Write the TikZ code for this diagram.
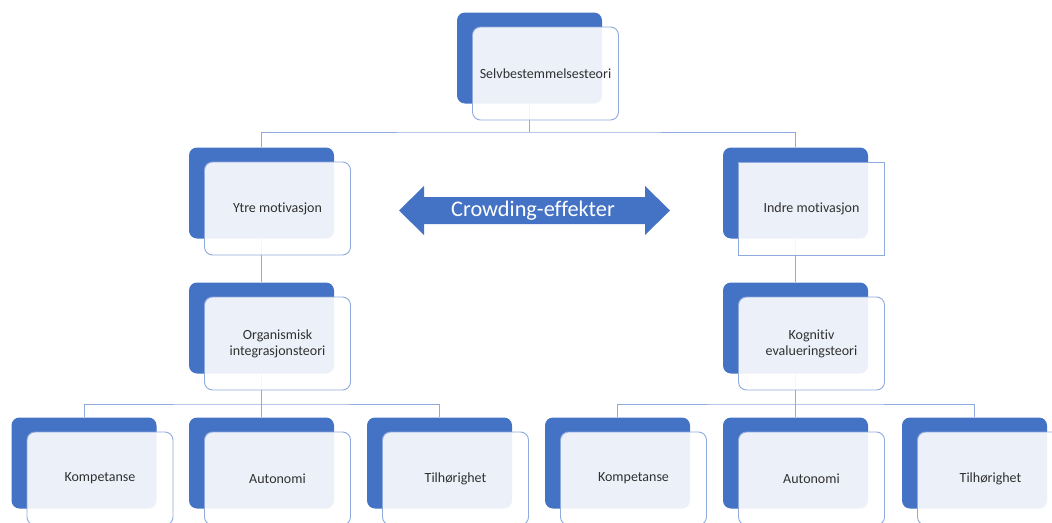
\documentclass[tikz,border=0pt]{standalone}
\usepackage{fontspec}
\setmainfont{Carlito}[Ligatures=NoCommon]
\usetikzlibrary{calc}
\definecolor{accent}{HTML}{4472C4}
\definecolor{linkblue}{HTML}{8FAADC}
\definecolor{labelgray}{HTML}{303030}
\pgfdeclarelayer{background}
\pgfsetlayers{background,main}

\tikzset{
  backbox/.style={rectangle, rounded corners=8pt, fill=accent,
    minimum width=145pt, minimum height=91pt, inner sep=0pt},
  frontbox/.style={rectangle, rounded corners=8pt, fill=white, fill opacity=0.9,
    text opacity=1, draw=linkblue, draw opacity=1, line width=0.9pt,
    minimum width=146pt, minimum height=93pt, align=center, inner sep=2pt,
    font=\fontsize{14}{16}\selectfont, text=labelgray},
  link/.style={draw=linkblue, line width=0.9pt},
  bannerfill/.style={fill=accent},
  bannertext/.style={font=\fontsize{22.3}{26}\selectfont, text=white, inner sep=0pt},
}

% one tier element: a solid back card and a translucent front card with the label
\newcommand\tierbox[5][]{%
  \node[backbox] (#2-b) at (#3,#4) {};
  \node[frontbox,#1] (#2) at ([xshift=16pt,yshift=-15.5pt]#2-b.center) {#5};
}

\begin{document}
\begin{tikzpicture}[x=1pt,y=-1pt]
\useasboundingbox (0,0) rectangle (1052,522);
\clip (0,0) rectangle (1052,522);

% top
\tierbox{top}{529.5}{58}{Selvbestemmelsesteori}

% second tier
\tierbox{ytre}{261.5}{193}{Ytre motivasjon}
\tierbox[rounded corners=0pt]{indre}{795.5}{193}{Indre motivasjon}

% third tier
\tierbox{org}{261.5}{328}{Organismisk\\integrasjonsteori}
\tierbox{kog}{795.5}{328}{Kognitiv\\evalueringsteori}

% bottom tier
\tierbox{kompA}{84}{463}{Kompetanse}
\tierbox{autoA}{261.5}{463}{Autonomi}
\tierbox{tilhA}{439.5}{463}{Tilhørighet}
\tierbox{kompB}{617.5}{463}{Kompetanse}
\tierbox{autoB}{795.5}{463}{Autonomi}
\tierbox{tilhB}{974.5}{463}{Tilhørighet}

% double arrow between the two kinds of motivation
\fill[bannerfill] (399,210.5) -- (424,186) -- (424,197) -- (645,197) -- (645,186)
  -- (670,210.5) -- (645,235) -- (645,224) -- (424,224) -- (424,235) -- cycle;
\node[bannertext] (crowd) at (533,210.5) {Crowding-effekter};

% connectors
\begin{pgfonlayer}{background}
  \fill[white] (0,0) rectangle (1052,522);
  \coordinate (j0) at (529.5,132);
  \draw[link] (top-b.south) -- (j0);
  \draw[link] (ytre-b.north) |- (j0) -| (indre-b.north);

  \draw[link] (ytre-b.south) -- (org-b.north);
  \draw[link] (indre-b.south) -- (kog-b.north);

  \coordinate (j1) at (261.5,404);
  \draw[link] (org-b.south) -- (autoA-b.north);
  \draw[link] (kompA-b.north) |- (j1) -| (tilhA-b.north);

  \coordinate (j2) at (795.5,404);
  \draw[link] (kog-b.south) -- (autoB-b.north);
  \draw[link] (kompB-b.north) |- (j2) -| (tilhB-b.north);
\end{pgfonlayer}
\end{tikzpicture}
\end{document}
